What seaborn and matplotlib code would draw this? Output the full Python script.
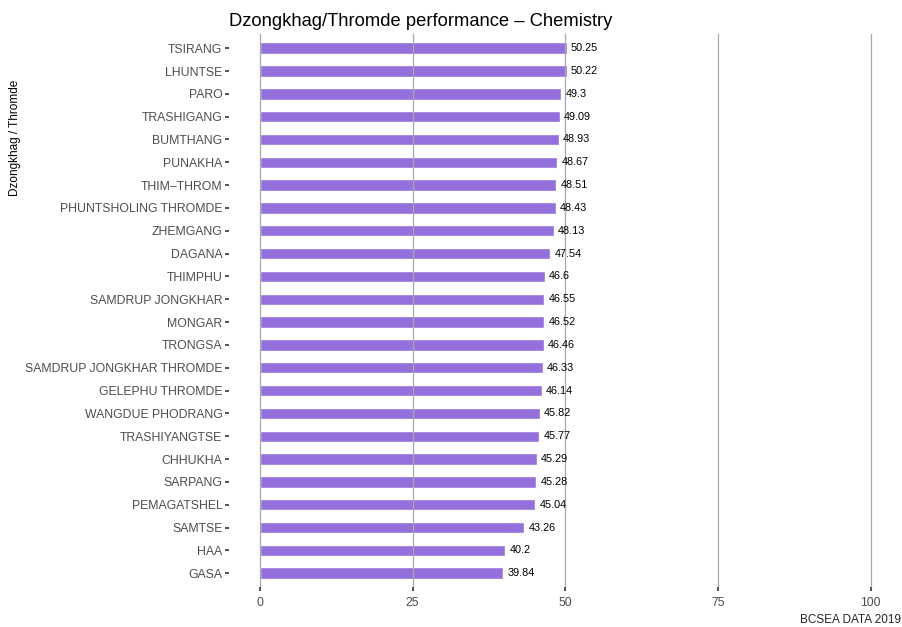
import matplotlib
matplotlib.use("Agg")
import matplotlib.pyplot as plt
import seaborn as sns
import pandas as pd

# data
districts = ["TSIRANG", "LHUNTSE", "PARO", "TRASHIGANG", "BUMTHANG", "PUNAKHA",
             "THIM\u2013THROM", "PHUNTSHOLING THROMDE", "ZHEMGANG", "DAGANA", "THIMPHU",
             "SAMDRUP JONGKHAR", "MONGAR", "TRONGSA", "SAMDRUP JONGKHAR THROMDE",
             "GELEPHU THROMDE", "WANGDUE PHODRANG", "TRASHIYANGTSE", "CHHUKHA",
             "SARPANG", "PEMAGATSHEL", "SAMTSE", "HAA", "GASA"]
scores = [50.25, 50.22, 49.3, 49.09, 48.93, 48.67, 48.51, 48.43, 48.13, 47.54, 46.6,
          46.55, 46.52, 46.46, 46.33, 46.14, 45.82, 45.77, 45.29, 45.28, 45.04,
          43.26, 40.2, 39.84]
x_ticks = [0, 25, 50, 75, 100]

df = pd.DataFrame({"district": districts, "score": scores})

sns.set_style("white")
plt.rcParams["font.family"] = ["Liberation Sans", "DejaVu Sans"]

fig = plt.figure(figsize=(9.03, 6.27), dpi=100)
ax = fig.add_axes([0.254, 0.064, 0.744, 0.881])

sns.barplot(data=df, y="district", x="score", orient="h", color="#9370DB",
            saturation=1, width=0.5, ax=ax, zorder=2)

# vertical grid lines (drawn over the bars like the reference)
for t in x_ticks:
    ax.axvline(t, color="#a8a8a8", lw=0.9, zorder=3)

for i, v in enumerate(scores):
    ax.text(v + 0.7, i, f"{v:g}", va="center", ha="left", fontsize=7.8,
            color="black", zorder=4)

ax.set_xlim(-5, 105)
ax.set_ylim(len(districts) - 0.4, -0.6)
ax.set_xticks(x_ticks)
ax.set_xticklabels([str(t) for t in x_ticks])
ax.tick_params(axis="both", bottom=True, left=True, length=3, width=1.2,
               color="#333333", labelcolor="#4d4d4d", labelsize=8.8, pad=2)
ax.tick_params(axis="x", pad=4)
for s in ax.spines.values():
    s.set_visible(False)

ax.set_xlabel("")
ax.set_ylabel("Dzongkhag / Thromde", fontsize=8.5, color="black")
ax.yaxis.set_label_coords(-0.31, 0.813)

ax.set_title("Dzongkhag/Thromde performance \u2013 Chemistry", loc="left",
             fontsize=13.2, color="black", pad=6)
fig.text(0.998, 0.002, "BCSEA DATA 2019", ha="right", va="bottom", fontsize=8.5)

fig.savefig("out.png", dpi=100)
